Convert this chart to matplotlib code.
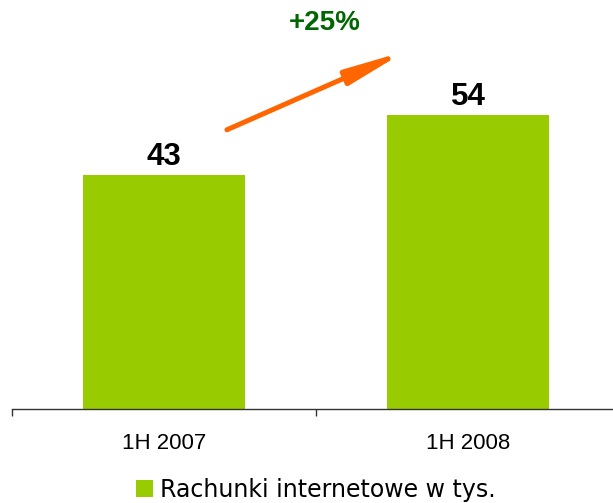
import matplotlib
matplotlib.use('Agg')
import matplotlib.pyplot as plt
from matplotlib.patches import Patch

categories = ['1H 2007', '1H 2008']
values = [43, 54]
growth_label = '+25%'
series_name = 'Rachunki internetowe w tys.'

bar_color = '#99CC00'
arrow_color = '#FF6600'
growth_color = '#006600'

fig = plt.figure(figsize=(6.13, 5.03), dpi=100)
ax = fig.add_axes([12 / 613, 94 / 503, 608 / 613, 409 / 503])

x = list(range(len(categories)))
bars = ax.bar(x, values, width=0.53, color=bar_color)

for rect, v in zip(bars, values):
    ax.annotate(str(v),
                xy=(rect.get_x() + rect.get_width() / 2, v),
                xytext=(0, 7), textcoords='offset points',
                ha='center', va='baseline',
                fontsize=22.5, fontweight='bold', family='Liberation Sans')

ax.set_xlim(-0.5, len(categories) - 0.5)
ax.set_ylim(0, 75)

# growth arrow + label
ax.annotate('', xy=(0.794, 65.6), xytext=(0.207, 51.2),
            arrowprops=dict(arrowstyle='-|>,head_length=3.4,head_width=0.45',
                            mutation_scale=10, lw=3.6, color=arrow_color,
                            shrinkA=0, shrinkB=0))
ax.text(0.53, 70.8, growth_label, ha='center', va='center',
        fontsize=20, fontweight='bold', color=growth_color,
        family='Liberation Sans')

for s in ['top', 'right', 'left']:
    ax.spines[s].set_visible(False)
ax.spines['bottom'].set_color('#333333')
ax.spines['bottom'].set_linewidth(1)
ax.set_yticks([])

ax.set_xticks(x)
ax.set_xticklabels(categories, fontsize=16, family='Liberation Sans')
ax.tick_params(axis='x', which='major', length=0, pad=17)
ax.set_xticks([i - 0.5 for i in range(len(categories) + 1)], minor=True)
ax.tick_params(axis='x', which='minor', length=5, color='#333333', width=1)

handle = Patch(facecolor=bar_color, edgecolor='none')
fig.legend([handle], [series_name], loc='center',
           bbox_to_anchor=(316 / 613, 1 - 490 / 503), frameon=False,
           prop={'family': 'DejaVu Sans', 'size': 17},
           handlelength=0.7, handleheight=0.7, handletextpad=0.3)

fig.savefig('out.png', dpi=100)
